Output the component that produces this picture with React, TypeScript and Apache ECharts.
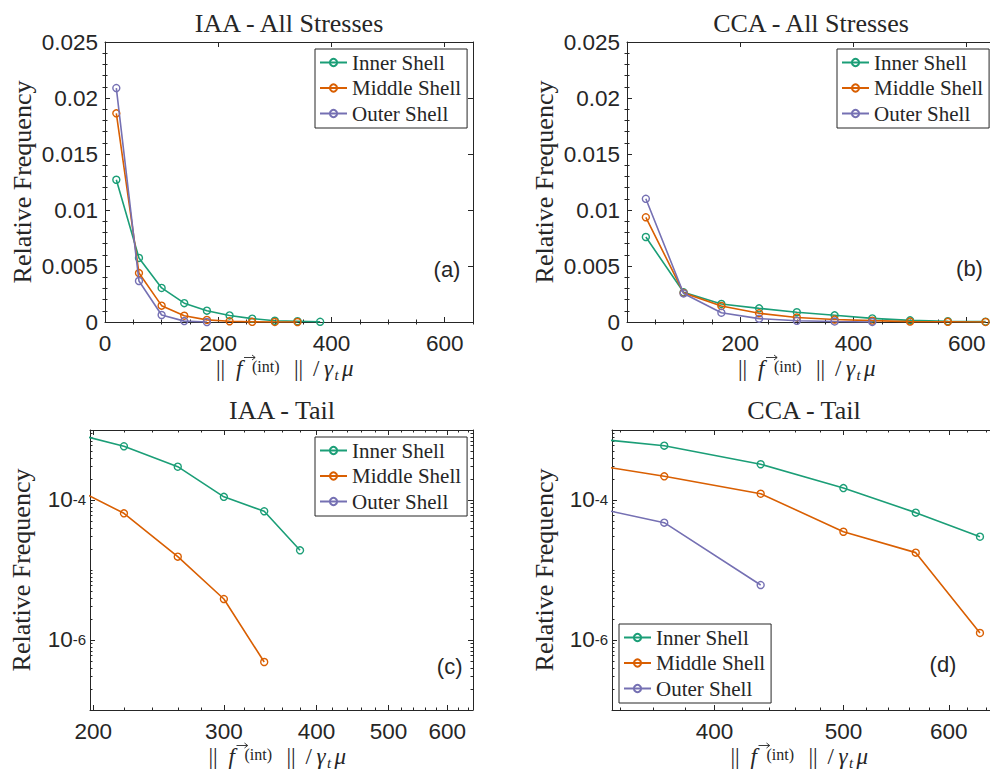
import { useEffect, useRef } from 'react';
import * as echarts from 'echarts';

// Histogram bin centres and relative frequencies per shell
const IAA_X = [20, 60, 100, 140, 180, 220, 260, 300, 340, 380];
const IAA_INNER = [0.0127, 0.00572, 0.00304, 0.00168, 0.00101, 0.000585, 0.000299, 0.000111, 0.000069, 0.0000191];
const IAA_MIDDLE = [0.01863, 0.00437, 0.00146, 0.00056, 0.00019, 0.0000645, 0.0000155, 0.00000385, 0.000000485];
const IAA_OUTER = [0.02089, 0.00366, 0.000625, 0.00008, 0];

const CCA_X = [33.3, 100, 166.7, 233.3, 300, 366.7, 433.3, 500, 566.7, 633.3];
const CCA_INNER = [0.00759, 0.00265, 0.00161, 0.00122, 0.00087, 0.000597, 0.000324, 0.000148, 0.000066, 0.0000299];
const CCA_MIDDLE = [0.00935, 0.0026, 0.00143, 0.00078, 0.000404, 0.000218, 0.000123, 0.0000352, 0.0000177, 0.00000126];
const CCA_OUTER = [0.011, 0.00255, 0.00083, 0.0003, 0.000108, 0.0000474, 0.0000061];

const SHELLS = ['Inner Shell', 'Middle Shell', 'Outer Shell'];
const SHELL_COLORS = ['#1b9e77', '#d95f02', '#7570b3'];

// Tick labels
const LIN_X_TICKS = [0, 200, 400, 600];
const LIN_Y_TICKS = [0, 0.005, 0.01, 0.015, 0.02, 0.025];
const LOG_Y_TICKS = [1e-6, 1e-4];
const IAA_TAIL_X_TICKS = [200, 300, 400, 500, 600];
const CCA_TAIL_X_TICKS = [400, 500, 600];

const SERIF = '"Liberation Serif", "Times New Roman", serif';
const SANS = '"Liberation Sans", Arial, Helvetica, sans-serif';
const INK = '#262626';
const TICK_FONT = 22.5;

const near = (a: number, b: number) => Math.abs(a - b) <= Math.abs(b) * 1e-6 + 1e-12;

function stepTicks(min: number, max: number, step: number, skip: number[]) {
  const out: number[] = [];
  for (let k = Math.ceil(min / step - 1e-9); k * step <= max + 1e-9; k++) {
    const v = +(k * step).toFixed(10);
    if (!skip.some((s) => near(v, s))) out.push(v);
  }
  return out;
}

function decadeTicks(min: number, max: number, skip: number[]) {
  const out: number[] = [];
  for (let e = Math.floor(Math.log10(min)); e <= Math.ceil(Math.log10(max)); e++) {
    for (let m = 1; m <= 9; m++) {
      const v = +(m * Math.pow(10, e)).toPrecision(6);
      if (v >= min * (1 - 1e-9) && v <= max * (1 + 1e-9) && !skip.some((s) => near(v, s))) out.push(v);
    }
  }
  return out;
}

type Panel = {
  title: string;
  tag: string;
  x: number[];
  ys: number[][];
  log: boolean;
  box: { left: number; top: number; width: number; height: number };
  xRange: [number, number];
  yRange: [number, number];
  xTicks: number[];
  yTicks: number[];
  xMinor: number[];
  yMinor: number[];
  legend: { left: number; top: number };
  titleAt: [number, number];
  tagAt: [number, number];
  yNameGap: number;
  yLabelMargin: number;
};

const PANELS: Panel[] = [
  {
    title: 'IAA - All Stresses', tag: '(a)', x: IAA_X, ys: [IAA_INNER, IAA_MIDDLE, IAA_OUTER], log: false,
    box: { left: 105, top: 42, width: 368, height: 280 },
    xRange: [0, 650], yRange: [0, 0.025], xTicks: LIN_X_TICKS, yTicks: LIN_Y_TICKS,
    xMinor: stepTicks(0, 650, 50, LIN_X_TICKS), yMinor: stepTicks(0, 0.025, 0.001, LIN_Y_TICKS),
    legend: { left: 315, top: 49 }, titleAt: [289, 23], tagAt: [447, 269],
    yNameGap: 69.5, yLabelMargin: 7,
  },
  {
    title: 'CCA - All Stresses', tag: '(b)', x: CCA_X, ys: [CCA_INNER, CCA_MIDDLE, CCA_OUTER], log: false,
    box: { left: 627, top: 42, width: 368, height: 280 },
    xRange: [0, 650], yRange: [0, 0.025], xTicks: LIN_X_TICKS, yTicks: LIN_Y_TICKS,
    xMinor: stepTicks(0, 650, 50, LIN_X_TICKS), yMinor: stepTicks(0, 0.025, 0.001, LIN_Y_TICKS),
    legend: { left: 837, top: 49 }, titleAt: [811, 23], tagAt: [969.5, 268],
    yNameGap: 70, yLabelMargin: 7,
  },
  {
    title: 'IAA - Tail', tag: '(c)', x: IAA_X, ys: [IAA_INNER, IAA_MIDDLE, IAA_OUTER], log: true,
    box: { left: 90, top: 430, width: 383, height: 280 },
    xRange: [198, 650], yRange: [1e-7, 1e-3], xTicks: IAA_TAIL_X_TICKS, yTicks: LOG_Y_TICKS,
    xMinor: stepTicks(198, 650, 20, IAA_TAIL_X_TICKS), yMinor: decadeTicks(1e-7, 1e-3, LOG_Y_TICKS),
    legend: { left: 315, top: 437 }, titleAt: [282, 410], tagAt: [449.7, 666],
    yNameGap: 55.5, yLabelMargin: 4,
  },
  {
    title: 'CCA - Tail', tag: '(d)', x: CCA_X, ys: [CCA_INNER, CCA_MIDDLE, CCA_OUTER], log: true,
    box: { left: 612, top: 430, width: 383, height: 280 },
    xRange: [335, 650], yRange: [1e-7, 1e-3], xTicks: CCA_TAIL_X_TICKS, yTicks: LOG_Y_TICKS,
    xMinor: stepTicks(335, 650, 20, CCA_TAIL_X_TICKS), yMinor: decadeTicks(1e-7, 1e-3, LOG_Y_TICKS),
    legend: { left: 619, top: 624 }, titleAt: [804, 410], tagAt: [943, 664],
    yNameGap: 55, yLabelMargin: 4,
  },
];

// x-axis label  || f⃗^(int) || / γ_t μ  : pieces placed around the plot centre, relative to the text baseline
const X_LABEL_BASELINE = 54;
const X_LABEL_PIECES = [
  { text: '||', dx: -73, size: 23, italic: false, dy: -7.6 },
  { text: 'f', dx: -53, size: 23, italic: true, dy: -7.6 },
  { text: '(int)', dx: -37, size: 16, italic: false, dy: -9.4 },
  { text: '||', dx: 5, size: 23, italic: false, dy: -7.6 },
  { text: '/', dx: 24, size: 23, italic: false, dy: -7.6 },
  { text: '\u03B3', dx: 35, size: 23, italic: true, dy: -7.6 },
  { text: 't', dx: 45.5, size: 15, italic: true, dy: -1 },
  { text: '\u03BC', dx: 53, size: 23, italic: true, dy: -7.6 },
];

function xLabelGroup(p: Panel) {
  const cx = p.box.left + p.box.width / 2;
  const base = p.box.top + p.box.height + X_LABEL_BASELINE;
  const children: any[] = X_LABEL_PIECES.map((piece) => ({
    type: 'text',
    x: piece.dx,
    y: piece.dy,
    silent: true,
    style: {
      text: piece.text,
      fontFamily: SERIF,
      fontSize: piece.size,
      fontStyle: piece.italic ? 'italic' : 'normal',
      fill: INK,
      textAlign: 'left',
      textVerticalAlign: 'middle',
    },
  }));
  // vector arrow over the f
  children.push({
    type: 'polyline',
    silent: true,
    shape: { points: [[-45, -18.5], [-34, -18.5]] },
    style: { stroke: INK, lineWidth: 0.9, fill: null },
  });
  children.push({
    type: 'polyline',
    silent: true,
    shape: { points: [[-37, -21], [-33.8, -18.5], [-37, -16]] },
    style: { stroke: INK, lineWidth: 0.9, fill: null },
  });
  return { type: 'group', x: cx, y: base, silent: true, children };
}

const LOG_LABEL_RICH = {
  b: { fontFamily: SANS, fontSize: TICK_FONT, color: INK, lineHeight: 22, verticalAlign: 'bottom' },
  e: { fontFamily: SANS, fontSize: 15, color: INK, lineHeight: 15, verticalAlign: 'top', padding: [3, 0, 14, 0] },
};

function axisSet(dim: 'x' | 'y', gridIndex: number, p: Panel) {
  const log = p.log;
  const range = dim === 'x' ? p.xRange : p.yRange;
  const major = dim === 'x' ? p.xTicks : p.yTicks;
  const minor = dim === 'x' ? p.xMinor : p.yMinor;
  const sides = dim === 'x' ? ['bottom', 'top'] : ['left', 'right'];
  const base: any = {
    type: log ? 'log' : 'value',
    gridIndex,
    min: range[0],
    max: range[1],
    silent: true,
    splitLine: { show: false },
    minorTick: { show: false },
    axisPointer: { show: false },
    axisLine: { show: true, onZero: false, lineStyle: { color: INK, width: 1 } },
  };
  if (log) base.logBase = 10;

  const labelFormatter = (v: number) => {
    if (log && dim === 'y') return `{b|10}{e|${Math.round(Math.log10(v))}}`;
    if (log) return String(Math.round(v));
    return String(+v.toPrecision(6));
  };

  const mainAxis: any = {
    ...base,
    position: sides[0],
    axisTick: { show: true, inside: true, length: 5, customValues: major, lineStyle: { color: INK, width: 1 } },
    axisLabel: {
      show: true,
      customValues: major,
      formatter: labelFormatter,
      margin: dim === 'x' ? 9.5 : p.yLabelMargin,
      color: INK,
      fontFamily: SANS,
      fontSize: TICK_FONT,
      rich: log && dim === 'y' ? LOG_LABEL_RICH : undefined,
    },
  };
  if (dim === 'y') {
    Object.assign(mainAxis, {
      name: 'Relative Frequency',
      nameLocation: 'middle',
      nameGap: p.yNameGap,
      nameRotate: 90,
      nameTextStyle: { fontFamily: SERIF, fontSize: 26, color: INK },
    });
  }
  const minorAxis = (side: string) => ({
    ...base,
    position: side,
    axisLine: { show: false },
    axisTick: { show: true, inside: true, length: 2.5, customValues: minor, lineStyle: { color: INK, width: 1 } },
    axisLabel: { show: false },
  });
  const mirrorAxis = {
    ...base,
    position: sides[1],
    axisTick: { show: true, inside: true, length: 5, customValues: major, lineStyle: { color: INK, width: 1 } },
    axisLabel: { show: false },
  };
  return [mainAxis, minorAxis(sides[0]), mirrorAxis, minorAxis(sides[1])];
}

function buildOption() {
  const grid: any[] = [];
  const xAxis: any[] = [];
  const yAxis: any[] = [];
  const series: any[] = [];
  const legend: any[] = [];
  const graphic: any[] = [];

  PANELS.forEach((p, pi) => {
    grid.push({ ...p.box, outerBoundsMode: 'none', containLabel: false, show: false });
    const xi = xAxis.length;
    const yi = yAxis.length;
    xAxis.push(...axisSet('x', pi, p));
    yAxis.push(...axisSet('y', pi, p));

    p.ys.forEach((vals, si) => {
      series.push({
        type: 'line',
        name: SHELLS[si],
        xAxisIndex: xi,
        yAxisIndex: yi,
        data: vals.map((v, i) => [p.x[i], p.log && v <= 0 ? '-' : v]),
        symbol: 'circle',
        symbolSize: 7,
        showAllSymbol: true,
        clip: true,
        lineStyle: { color: SHELL_COLORS[si], width: 1.6 },
        itemStyle: { color: 'rgba(255,255,255,0)', borderColor: SHELL_COLORS[si], borderWidth: 1.4 },
        emphasis: { disabled: true },
        z: 2 + si,
      });
    });

    legend.push({
      show: true,
      orient: 'vertical',
      left: p.legend.left,
      top: p.legend.top,
      data: SHELLS,
      selectedMode: false,
      itemWidth: 27,
      itemHeight: 9,
      itemGap: 4.5,
      padding: [3, 6, 4, 4],
      backgroundColor: '#ffffff',
      borderColor: INK,
      borderWidth: 1,
      borderRadius: 0,
      textStyle: { fontFamily: SERIF, fontSize: 21, color: INK, lineHeight: 21 },
    });

    graphic.push({
      type: 'text',
      x: p.titleAt[0],
      y: p.titleAt[1],
      silent: true,
      style: { text: p.title, fontFamily: SERIF, fontSize: 26, fill: INK, textAlign: 'center', textVerticalAlign: 'middle' },
    });
    graphic.push({
      type: 'text',
      x: p.tagAt[0],
      y: p.tagAt[1],
      silent: true,
      style: { text: p.tag, fontFamily: SANS, fontSize: 22, fill: INK, textAlign: 'center', textVerticalAlign: 'middle' },
    });
    graphic.push(xLabelGroup(p));
  });

  return {
    animation: false,
    backgroundColor: '#ffffff',
    textStyle: { fontFamily: SANS },
    grid,
    xAxis,
    yAxis,
    series,
    legend,
    graphic,
    tooltip: { show: false },
  };
}

export default function App() {
  const ref = useRef<HTMLDivElement>(null);
  useEffect(() => {
    if (!ref.current) return;
    const chart = echarts.init(ref.current, null, { renderer: 'svg' });
    chart.setOption(buildOption() as any);
    return () => chart.dispose();
  }, []);
  return (
    <div
      ref={ref}
      style={{ position: 'absolute', left: 0, top: 0, width: 990, height: 776, background: '#ffffff' }}
    />
  );
}
